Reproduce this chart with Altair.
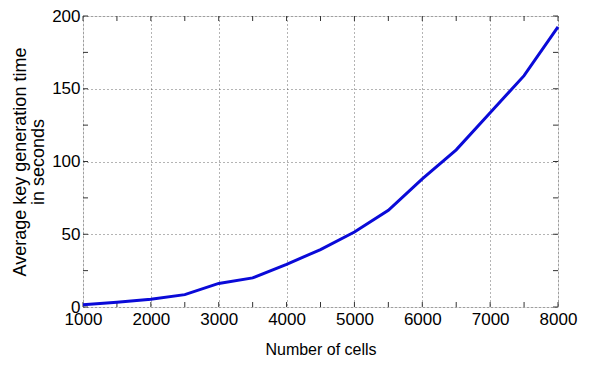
import altair as alt
import pandas as pd

cells = [1000, 1500, 2000, 2500, 3000, 3500, 4000, 4500, 5000, 5500, 6000, 6500, 7000, 7500, 8000]
times = [1.5, 3.2, 5.4, 8.5, 16.2, 20.0, 29.3, 39.5, 51.5, 66.4, 88.0, 108.0, 133.5, 159.0, 192.5]

x_ticks = list(range(1000, 8001, 500))
y_ticks = list(range(0, 201, 25))

W, H = 475, 291
FONT = "Liberation Sans"

df = pd.DataFrame({"cells": cells, "time": times})
xt = pd.DataFrame({"v": x_ticks})
yt = pd.DataFrame({"v": y_ticks})

xs = alt.Scale(domain=[1000, 8000], nice=False, zero=False)
ys = alt.Scale(domain=[0, 200], nice=False)

line = alt.Chart(df).mark_line(color="#0a0ad8", strokeWidth=3).encode(
    x=alt.X("cells:Q", scale=xs, title="Number of cells",
            axis=alt.Axis(values=x_ticks, format="d",
                          labelExpr="datum.value % 1000 == 0 ? datum.label : ''",
                          grid=True, gridDash=[1, 3], gridColor="#444", gridOpacity=0.8,
                          ticks=False, domain=False, labelPadding=4,
                          labelFlush=False, labelOverlap=False, labelBound=False,
                          labelFontSize=17, titleFontSize=16, titlePadding=14,
                          labelColor="black", titleColor="black",
                          labelFont=FONT, titleFont=FONT, titleFontWeight="normal")),
    y=alt.Y("time:Q", scale=ys, title=["Average key generation time", "in seconds"],
            axis=alt.Axis(values=y_ticks,
                          labelExpr="datum.value % 50 == 0 ? datum.label : ''",
                          grid=True, gridDash=[1, 3], gridColor="#444", gridOpacity=0.8,
                          ticks=False, domain=False, labelPadding=3,
                          labelFlush=False, labelOverlap=False, labelBound=False,
                          labelFontSize=17, titleFontSize=18, titlePadding=4,
                          labelColor="black", titleColor="black",
                          labelFont=FONT, titleFont=FONT, titleFontWeight="normal",
                          titleLineHeight=18)),
)

tk = dict(color="#333", strokeWidth=1)
xb = alt.Chart(xt).mark_rule(**tk).encode(x=alt.X("v:Q", scale=xs), y=alt.value(H), y2=alt.value(H - 5))
xtp = alt.Chart(xt).mark_rule(**tk).encode(x=alt.X("v:Q", scale=xs), y=alt.value(0), y2=alt.value(5))
yl = alt.Chart(yt).mark_rule(**tk).encode(y=alt.Y("v:Q", scale=ys), x=alt.value(0), x2=alt.value(5))
yr = alt.Chart(yt).mark_rule(**tk).encode(y=alt.Y("v:Q", scale=ys), x=alt.value(W), x2=alt.value(W - 5))

chart = alt.layer(xb, xtp, yl, yr, line).properties(
    width=W, height=H,
    autosize=alt.AutoSizeParams(type="none"),
    padding={"left": 75, "top": 8, "right": 20, "bottom": 60},
).configure_view(stroke="#777", strokeWidth=2).configure(background="white")

chart.save("out.html", embed_options={"renderer": "svg", "actions": False})
